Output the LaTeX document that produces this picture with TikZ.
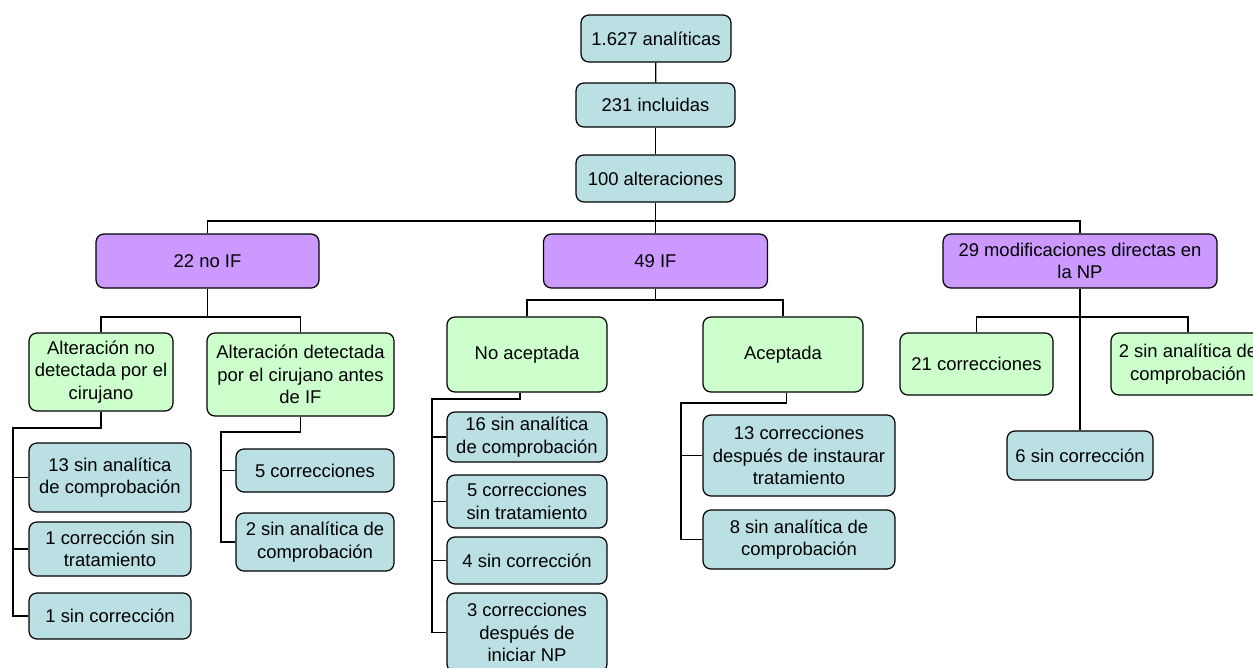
\documentclass[tikz,border=0pt]{standalone}
\usepackage{fontspec}
\setmainfont{Liberation Sans}
\usepackage[]{xcolor}
\usepackage{tikz}
\usetikzlibrary{positioning}
\definecolor{boxblue}{RGB}{187,224,227}
\definecolor{boxpurple}{RGB}{204,153,255}
\definecolor{boxgreen}{RGB}{204,255,204}
\tikzset{
		box/.style={draw, rounded corners=4.5pt, line width=0.7pt, align=center, inner sep=1pt,
			font=\fontsize{10.5}{12.8}\selectfont},
		blue box/.style={box, fill=boxblue},
		purple box/.style={box, fill=boxpurple},
		green box/.style={box, fill=boxgreen},
		link/.style={line width=0.7pt}
	}

\begin{document}
\begin{tikzpicture}[x=0.02cm,y=-0.02cm]
				\useasboundingbox (0,0) rectangle (1253,667);
				% top chain
				\node[blue box, minimum width=3cm, minimum height=0.94cm]    (analiticas)   at (656,38.5)    {1.627 analíticas};
				\node[blue box, minimum width=3.18cm, minimum height=0.88cm] (incluidas)    at (655.5,105)   {231 incluidas};
				\node[blue box, minimum width=3.18cm, minimum height=0.94cm] (alteraciones) at (655.5,178.5) {100 alteraciones};

				% second level
				\node[purple box, minimum width=4.46cm, minimum height=1.08cm] (noif)  at (207.5,261) {22 no IF};
				\node[purple box, minimum width=4.48cm, minimum height=1.08cm] (if)    at (655.5,261) {49 IF};
				\node[purple box, minimum width=5.48cm, minimum height=1.08cm] (npmod) at (1080,261)  {29 modificaciones directas en\\la NP};

				% third level
				\node[green box, minimum width=2.88cm, minimum height=1.56cm] (nodet)    at (101,372)    {Alteración no\\detectada por el\\cirujano};
				\node[green box, minimum width=3.74cm, minimum height=1.66cm] (det)      at (300.5,374.5) {Alteración detectada\\por el cirujano antes\\de IF};
				\node[green box, minimum width=3.2cm, minimum height=1.5cm]   (noacep)   at (527,354.5)  {No aceptada};
				\node[green box, minimum width=3.2cm, minimum height=1.5cm]   (acep)     at (783,354.5)  {Aceptada};
				\node[green box, minimum width=3.06cm, minimum height=1.24cm] (corr21)   at (976.5,364)  {21 correcciones};
				\node[green box, minimum width=3.08cm, minimum height=1.24cm] (sinan2np) at (1188,364)   {2 sin analítica de\\comprobación};
				\node[blue box, minimum width=2.92cm, minimum height=0.98cm]  (sincorr6) at (1080,455.5) {6 sin corrección};

				% leaves
				\node[blue box, minimum width=3.24cm, minimum height=1.38cm] (a13)   at (110,477.5) {13 sin analítica\\de comprobación};
				\node[blue box, minimum width=3.24cm, minimum height=1.08cm] (a1corr) at (110,549)  {1 corrección sin\\tratamiento};
				\node[blue box, minimum width=3.24cm, minimum height=0.92cm] (a1sin) at (110,616)   {1 sin corrección};
				\node[blue box, minimum width=3.16cm, minimum height=0.86cm] (b5)    at (315,470.5) {5 correcciones};
				\node[blue box, minimum width=3.16cm, minimum height=1.16cm] (b2)    at (315,542)   {2 sin analítica de\\comprobación};
				\node[blue box, minimum width=3.2cm, minimum height=1.0cm]   (c16)   at (527,437)   {16 sin analítica\\de comprobación};
				\node[blue box, minimum width=3.2cm, minimum height=1.06cm]  (c5)    at (527,501.5) {5 correcciones\\sin tratamiento};
				\node[blue box, minimum width=3.2cm, minimum height=0.94cm]  (c4)    at (527,560.5) {4 sin corrección};
				\node[blue box, minimum width=3.2cm, minimum height=1.58cm]  (c3)    at (527,632.5) {3 correcciones\\después de\\iniciar NP};
				\node[blue box, minimum width=3.84cm, minimum height=1.62cm] (d13)   at (799,455.5) {13 correcciones\\después de instaurar\\tratamiento};
				\node[blue box, minimum width=3.84cm, minimum height=1.18cm] (d8)    at (799,539.5) {8 sin analítica de\\comprobación};

				% buses and rails
				\coordinate (busA)  at (655.5,221);
				\coordinate (busB)  at (207.5,317);
				\coordinate (busC)  at (655.5,300);
				\coordinate (busD)  at (1080,317);
				\coordinate (railA) at (13,428);
				\coordinate (railB) at (221,432);
				\coordinate (railC) at (432,399);
				\coordinate (railD) at (681,403);

				\draw[link] (analiticas) -- (incluidas);
				\draw[link] (incluidas) -- (alteraciones);
				\draw[link] (alteraciones) -- (if);
				\draw[link] (noif.north) |- (busA) -| (npmod.north);

				\draw[link] (noif) -- (busB);
				\draw[link] (nodet.north) |- (busB) -| (det.north);
				\draw[link] (if) -- (busC);
				\draw[link] (noacep.north) |- (busC) -| (acep.north);
				\draw[link] (npmod) -- (sincorr6);
				\draw[link] (corr21.north) |- (busD) -| (sinan2np.north);

				\draw[link] (nodet.south) |- (railA) |- (a1sin.west);
				\draw[link] (railA |- a13.west) -- (a13.west);
				\draw[link] (railA |- a1corr.west) -- (a1corr.west);

				\draw[link] (det.south) |- (railB) |- (b2.west);
				\draw[link] (railB |- b5.west) -- (b5.west);

				\draw[link] ([xshift=-0.14cm]noacep.south) |- (railC) |- (c3.west);
				\draw[link] (railC |- c16.west) -- (c16.west);
				\draw[link] (railC |- c5.west) -- (c5.west);
				\draw[link] (railC |- c4.west) -- (c4.west);

				\draw[link] ([xshift=0.07cm]acep.south) |- (railD) |- (d8.west);
				\draw[link] (railD |- d13.west) -- (d13.west);
			\end{tikzpicture}
\end{document}
